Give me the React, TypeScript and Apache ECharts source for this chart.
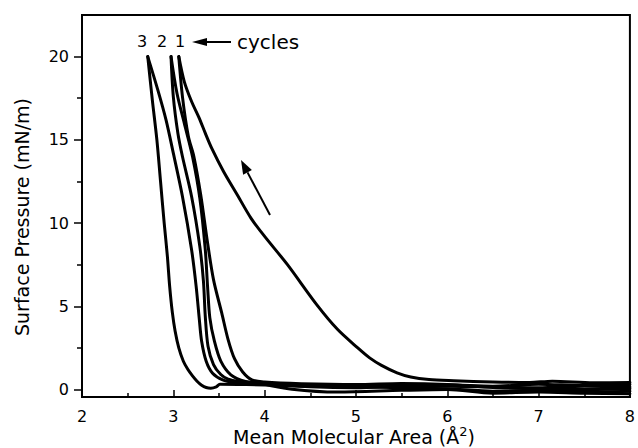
import React, { useEffect, useRef } from "react";
import * as echarts from "echarts";

const FONT = "DejaVu Sans";

// axis ranges and tick values
const xMin = 2;
const xMax = 8;
const yMin = -0.45;
const yMax = 22.5;
const yMajorTicks = [0, 5, 10, 15, 20];
const yMinorTicks = [2.5, 7.5, 12.5, 17.5];

// [mean molecular area, surface pressure]
const cycle1Compression: number[][] = [
  [8.0, 0.42], [7.6, 0.4], [7.15, 0.5], [6.9, 0.42], [6.5, 0.45], [6.07, 0.53],
  [5.8, 0.6], [5.6, 0.75], [5.45, 1.0], [5.28, 1.45], [5.15, 1.9], [5.02, 2.5],
  [4.8, 3.6], [4.57, 5.1], [4.25, 7.5], [4.0, 9.2], [3.85, 10.3], [3.7, 11.7],
  [3.55, 13.1], [3.42, 14.5], [3.35, 15.4], [3.28, 16.35], [3.2, 17.3], [3.12, 18.5],
  [3.06, 20],
];
const cycle1Expansion: number[][] = [
  [3.06, 20], [3.1, 17.6], [3.165, 15.2], [3.225, 14.0], [3.3, 11.7], [3.37, 9.0],
  [3.44, 6.6], [3.53, 4.6], [3.6, 3.0], [3.67, 1.85], [3.76, 1.05], [3.86, 0.58],
  [4.0, 0.45], [4.4, 0.35], [5.0, 0.3], [5.5, 0.36], [6.0, 0.3], [6.5, 0.12],
  [7.0, 0.06], [7.5, 0.0], [8.0, 0.05],
];
const cycle2Compression: number[][] = [
  [8.0, 0.3], [7.5, 0.24], [7.0, 0.32], [6.5, 0.2], [6.0, 0.28], [5.5, 0.22],
  [5.0, 0.1], [4.5, 0.16], [4.0, 0.34], [3.79, 0.48], [3.63, 0.88], [3.52, 1.7],
  [3.45, 2.9], [3.4, 4.3], [3.375, 6.2], [3.35, 8.4], [3.29, 11.5], [3.21, 14.0],
  [3.12, 16.0], [3.04, 17.8], [2.975, 20],
];
const cycle2Expansion: number[][] = [
  [2.975, 20], [3.0, 17.6], [3.05, 15.4], [3.1, 14.0], [3.2, 11.6], [3.29, 8.6],
  [3.33, 6.5], [3.35, 4.4], [3.38, 2.6], [3.44, 1.5], [3.52, 0.9], [3.6, 0.62],
  [3.72, 0.48], [3.9, 0.4], [4.3, 0.02], [4.8, -0.15], [5.5, -0.05], [6.0, 0.0],
  [6.5, -0.22], [7.0, -0.15], [7.5, -0.22], [8.0, -0.25],
];
const cycle3Compression: number[][] = [
  [8.0, 0.15], [7.5, 0.2], [7.0, 0.1], [6.5, 0.16], [6.0, 0.2], [5.5, 0.14],
  [5.0, 0.25], [4.5, 0.2], [4.0, 0.3], [3.8, 0.34], [3.68, 0.4], [3.54, 0.58],
  [3.43, 0.98], [3.36, 1.7], [3.31, 2.9], [3.285, 4.2], [3.25, 6.2], [3.2, 8.4],
  [3.1, 11.6], [3.0, 14.2], [2.92, 16.2], [2.83, 18.0], [2.72, 20],
];
const cycle3Expansion: number[][] = [
  [2.72, 20], [2.77, 17.4], [2.82, 15.0], [2.86, 12.5], [2.9, 10.0], [2.935, 8.0],
  [2.96, 6.2], [2.99, 4.6], [3.02, 3.5], [3.06, 2.5], [3.11, 1.7], [3.16, 1.2],
  [3.21, 0.82], [3.26, 0.5], [3.31, 0.26], [3.36, 0.12], [3.41, 0.08], [3.47, 0.16],
  [3.51, 0.32], [3.8, 0.3], [4.2, 0.25], [4.8, 0.2], [5.5, 0.1], [6.0, 0.05],
  [6.5, -0.1], [7.0, -0.05], [7.5, -0.15], [8.0, -0.1],
];

const curves = [
  cycle1Compression, cycle1Expansion, cycle2Compression,
  cycle2Expansion, cycle3Compression, cycle3Expansion,
];

const cycleLabels = ["3", "2", "1"];
const xAxisTitle = "Mean Molecular Area (Å";
const yAxisTitle = "Surface Pressure (mN/m)";

export default function App() {
  const ref = useRef<HTMLDivElement>(null);
  useEffect(() => {
    const chart = echarts.init(ref.current!, null, { renderer: "svg" });
    const labelX = [142, 162, 180];
    chart.setOption({
      animation: false,
      backgroundColor: "#fff",
      grid: {
        left: 82, right: 2, top: 15, bottom: 51,
        show: true, borderColor: "#000", borderWidth: 2, backgroundColor: "transparent",
      },
      xAxis: {
        type: "value", min: xMin, max: xMax, interval: 1,
        axisLine: { show: true, onZero: false, lineStyle: { color: "#000", width: 2 } },
        axisTick: { show: true, inside: true, length: 7, lineStyle: { color: "#000", width: 1.5 } },
        minorTick: { show: true, splitNumber: 2, length: 4, lineStyle: { color: "#000", width: 1.5 } },
        axisLabel: { fontSize: 16, fontFamily: FONT, color: "#000", margin: 11 },
        splitLine: { show: false },
      },
      yAxis: [
        {
          type: "value", min: yMin, max: yMax, position: "left",
          axisLine: { show: true, onZero: false, lineStyle: { color: "#000", width: 2 } },
          axisTick: { show: true, customValues: yMajorTicks, length: 8, lineStyle: { color: "#000", width: 1.5 } },
          axisLabel: { customValues: yMajorTicks, fontSize: 16, fontFamily: FONT, color: "#000", margin: 13 },
          splitLine: { show: false },
        },
        {
          type: "value", min: yMin, max: yMax, position: "left", offset: 0,
          axisLine: { show: false, onZero: false },
          axisTick: { show: true, customValues: yMinorTicks, length: 5, lineStyle: { color: "#000", width: 1.5 } },
          axisLabel: { show: false },
          splitLine: { show: false },
        },
      ],
      series: curves.map((d) => ({
        type: "line",
        data: d,
        showSymbol: false,
        smooth: 0.3,
        yAxisIndex: 0,
        lineStyle: { color: "#000", width: 3, join: "round", cap: "round" },
      })),
      graphic: [
        {
          type: "text", x: 354, y: 437,
          style: {
            text: "{a|" + xAxisTitle + "}{b|2}{a|)}",
            align: "center", verticalAlign: "middle",
            rich: {
              a: { fontSize: 19, fontFamily: FONT, fill: "#000", lineHeight: 24 },
              b: { fontSize: 13, fontFamily: FONT, fill: "#000", lineHeight: 13, verticalAlign: "top" },
            },
          },
        },
        {
          type: "text", x: 22, y: 217, rotation: Math.PI / 2,
          style: {
            text: yAxisTitle, fontSize: 19, fontFamily: FONT, fill: "#000",
            align: "center", verticalAlign: "middle",
          },
        },
        ...cycleLabels.map((t, i) => ({
          type: "text", x: labelX[i], y: 41,
          style: { text: t, fontSize: 16, fontFamily: FONT, fill: "#000", align: "center", verticalAlign: "middle" },
        })),
        {
          type: "text", x: 237, y: 42,
          style: { text: "cycles", fontSize: 20, fontFamily: FONT, fill: "#000", align: "left", verticalAlign: "middle" },
        },
        { type: "line", shape: { x1: 205, y1: 42, x2: 231, y2: 42 }, style: { stroke: "#000", lineWidth: 2 } },
        { type: "polygon", shape: { points: [[192, 42], [207, 38], [207, 46]] }, style: { fill: "#000" } },
        { type: "line", shape: { x1: 270, y1: 215, x2: 247.5, y2: 172.4 }, style: { stroke: "#000", lineWidth: 2 } },
        { type: "polygon", shape: { points: [[241, 160], [251.9, 170.1], [243.1, 174.7]] }, style: { fill: "#000" } },
      ],
    });
    return () => chart.dispose();
  }, []);
  return <div ref={ref} style={{ position: "absolute", left: 0, top: 0, width: 638, height: 448 }} />;
}
